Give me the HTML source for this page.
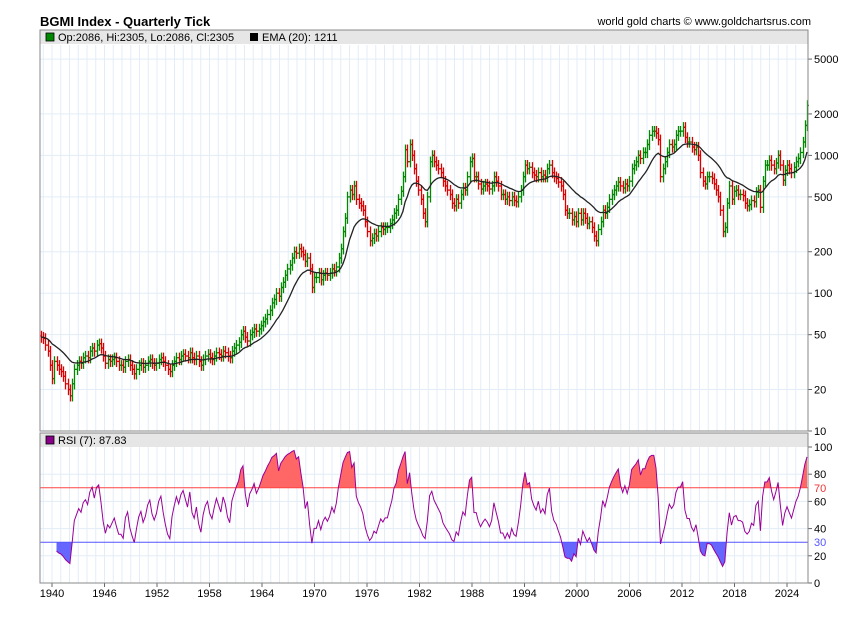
<!DOCTYPE html>
<html><head><meta charset="utf-8"><style>
body{margin:0;background:#fff;}
svg{display:block;font-family:"Liberation Sans",sans-serif;}
</style></head><body>
<svg id="c" width="850" height="619" viewBox="0 0 850 619">
<text x="40" y="26" font-size="13" font-weight="bold">BGMI Index - Quarterly Tick</text>
<text x="811" y="25" font-size="11" text-anchor="end">world gold charts © www.goldchartsrus.com</text>
<g id="grid"></g>
<g id="main"></g>
<g id="rsi"></g>
<g id="axes"></g>
</svg>
<script>
const startYear = 1939;
const closes = [
48,47,42,38, 30,24,32,30, 28,27,25,22, 20,18,22,28, 30,32,31,34, 35,34,38,40,
38,42,43,40, 35,31,33,32, 33,34,32,30, 30,29,32,33, 30,28,26,28, 30,31,29,30,
32,33,31,30, 31,33,34,32, 30,28,27,30, 32,34,33,35, 36,35,34,37, 34,33,35,32,
30,33,35,36, 34,33,35,37, 36,35,38,37, 35,34,38,40, 42,44,50,53, 48,45,50,52,
55,53,55,58, 62,65,70,75, 85,90,100,95, 110,120,135,150, 160,180,200,195, 210,200,190,170,
180,150,110,130, 130,140,125,135, 140,135,140,150, 145,155,180,210, 280,350,500,560,
520,600,480,450, 430,400,330,280, 240,250,270,260, 280,300,290,300, 300,320,340,380,
400,480,550,700, 1100,900,1200,1000, 800,650,560,480, 380,330,500,900, 1000,900,850,800,
750,650,600,560, 520,450,430,480, 450,520,580,560, 700,900,950,700, 700,620,570,600,
620,600,570,600, 700,650,600,520, 520,480,500,470, 500,470,460,500, 560,700,850,800,
820,750,720,700, 750,700,720,700, 800,850,750,700, 680,640,600,520, 400,380,380,340,
360,330,380,340, 380,350,320,330, 300,260,240,290, 330,400,380,420, 480,520,560,600,
640,600,580,620, 600,650,800,850, 900,1000,950,1050, 1050,1200,1400,1500, 1500,1450,1300,700,
800,900,1050,1200, 1150,1200,1400,1500, 1500,1600,1350,1250, 1250,1150,1100,1150, 1000,750,650,620,
700,700,680,620, 560,500,400,280, 300,450,600,480, 550,560,520,520, 510,450,430,440,
470,460,540,560, 420,650,850,850, 920,850,800,880, 1000,850,660,780, 850,800,750,820,
900,950,1050,1250, 1650,2305
];
const yTicks = [5000,2000,1000,500,200,100,50,20,10];
const rsiTicks = [100,80,60,40,20,0];
const xTickYears = [1940,1946,1952,1958,1964,1970,1976,1982,1988,1994,2000,2006,2012,2018,2024];

const NS="http://www.w3.org/2000/svg";
function mk(tag,attrs,parent){const e=document.createElementNS(NS,tag);for(const k in attrs)e.setAttribute(k,attrs[k]);parent.appendChild(e);return e;}
const L=40,R=808,MT=30,MB=431,RT=433,RB=583;
const xYear=y=>52+(y-1940)*8.75;
const xIdx=i=>41+i*(807-41)/(closes.length-1);
const yMain=v=>431-(Math.log10(v)-1)*137.8;
const yRsi=v=>583-v*1.36;

const grid=document.getElementById('grid'),main=document.getElementById('main'),rsiG=document.getElementById('rsi'),axes=document.getElementById('axes');
let f=mk('rect',{x:L,y:MT,width:R-L,height:MB-MT,fill:'#fff',stroke:'none'},grid);

f=mk('rect',{x:L,y:RT,width:R-L,height:RB-RT,fill:'#fff',stroke:'none'},grid);

for(let y=1939;y<=2025;y++){const x=xYear(y);if(x<L||x>R)continue;
 mk('line',{x1:x,x2:x,y1:MT+15,y2:MB,stroke:'#e2edf7','stroke-width':1},grid);
 mk('line',{x1:x,x2:x,y1:RT+14,y2:RB,stroke:'#e2edf7','stroke-width':1},grid);}
yTicks.forEach(v=>{const y=yMain(v);
 if(y>MT+15&&y<MB)mk('line',{x1:L,x2:R,y1:y,y2:y,stroke:'#e2edf7'},grid);
 const t=mk('text',{x:814,y:y+4,'font-size':11},axes);t.textContent=v;
 
 mk('line',{x1:R,x2:R+4,y1:y,y2:y,stroke:'#666'},axes);});
rsiTicks.forEach(v=>{const y=yRsi(v);
 if(v>0&&v<100)mk('line',{x1:L,x2:R,y1:y,y2:y,stroke:'#e2edf7'},grid);
 const t=mk('text',{x:814,y:y+4,'font-size':11},axes);t.textContent=v;
 
 mk('line',{x1:R,x2:R+4,y1:y,y2:y,stroke:'#666'},axes);});
[[70,'#e33'],[30,'#55f']].forEach(([v,c])=>{const t=mk('text',{x:814,y:yRsi(v)+4,'font-size':11,fill:c},axes);t.textContent=v;
 });
xTickYears.forEach(yr=>{const x=xYear(yr);
 const t=mk('text',{x:x,y:597,'font-size':11,'text-anchor':'middle'},axes);t.textContent=yr;
 
 mk('line',{x1:x,x2:x,y1:RB,y2:RB+4,stroke:'#666'},axes);});

for(let i=0;i<closes.length;i++){
 const c=closes[i],o=i?closes[i-1]:c*1.02;
 const hi=Math.max(o,c)*1.09,lo=Math.min(o,c)*0.91;
 const col=c>=o?'#080':'#d00';const x=Math.round(xIdx(i))+0.5;
 const g=mk('g',{stroke:col,'stroke-width':1.3},main);
 
 mk('line',{x1:x,x2:x,y1:yMain(hi),y2:yMain(lo)},g);
 mk('line',{x1:x-1.5,x2:x,y1:yMain(o),y2:yMain(o)},g);
 mk('line',{x1:x,x2:x+1.5,y1:yMain(c),y2:yMain(c)},g);
}
let ema=closes[0],pts=[];const k=2/21;
closes.forEach((c,i)=>{ema=i?c*k+ema*(1-k):c;pts.push(xIdx(i).toFixed(1)+','+yMain(ema).toFixed(1));});
let p=mk('polyline',{points:pts.join(' '),fill:'none',stroke:'#222','stroke-width':1.3},main);


const rsi=[];let ag=0,al=0;const n=7;
for(let i=1;i<closes.length;i++){const d=closes[i]-closes[i-1];const g=Math.max(d,0),l=Math.max(-d,0);
 if(i<=n){ag+=g/n;al+=l/n;}else{ag=(ag*(n-1)+g)/n;al=(al*(n-1)+l)/n;}
 if(i>=n)rsi.push([i,al===0?100:100-100/(1+ag/al)]);}
const rp=rsi.map(([i,v])=>xIdx(i).toFixed(1)+','+yRsi(v).toFixed(1));
const x0=xIdx(rsi[0][0]),x1=xIdx(rsi[rsi.length-1][0]);
const defs=mk('defs',{},rsiG);
const c1=mk('clipPath',{id:'above'},defs);mk('rect',{x:L,y:RT,width:R-L,height:yRsi(70)-RT},c1);
const c2=mk('clipPath',{id:'below'},defs);mk('rect',{x:L,y:yRsi(30),width:R-L,height:RB-yRsi(30)},c2);
p=mk('polygon',{points:x0+','+yRsi(70)+' '+rp.join(' ')+' '+x1+','+yRsi(70),fill:'#f66','clip-path':'url(#above)'},rsiG);

p=mk('polygon',{points:x0+','+yRsi(30)+' '+rp.join(' ')+' '+x1+','+yRsi(30),fill:'#66f','clip-path':'url(#below)'},rsiG);

p=mk('line',{x1:L,x2:R,y1:yRsi(70),y2:yRsi(70),stroke:'#f44'},rsiG);

p=mk('line',{x1:L,x2:R,y1:yRsi(30),y2:yRsi(30),stroke:'#55f'},rsiG);

p=mk('polyline',{points:rp.join(' '),fill:'none',stroke:'#909','stroke-width':1},rsiG);


[[MT,'price-legend-band'],[RT,'rsi-legend-band']].forEach(([y,n])=>{const r=mk('rect',{x:L,y:y,width:R-L,height:14,fill:'#e6e6e6'},axes);
 });
mk('rect',{x:46,y:MT+3,width:8,height:8,fill:'#080',stroke:'#000','stroke-width':0.8},axes);
let t=mk('text',{x:58,y:MT+11,'font-size':11},axes);t.textContent='Op:2086, Hi:2305, Lo:2086, Cl:2305';

mk('rect',{x:250,y:MT+3,width:8,height:8,fill:'#000'},axes);
t=mk('text',{x:262,y:MT+11,'font-size':11},axes);t.textContent='EMA (20): 1211';

mk('rect',{x:46,y:RT+3,width:8,height:8,fill:'#808',stroke:'#000','stroke-width':0.8},axes);
t=mk('text',{x:58,y:RT+11,'font-size':11},axes);t.textContent='RSI (7): 87.83';

mk('rect',{x:L,y:MT,width:R-L,height:MB-MT,fill:'none',stroke:'#888'},axes);
mk('rect',{x:L,y:RT,width:R-L,height:RB-RT,fill:'none',stroke:'#888'},axes);
</script>
</body></html>
